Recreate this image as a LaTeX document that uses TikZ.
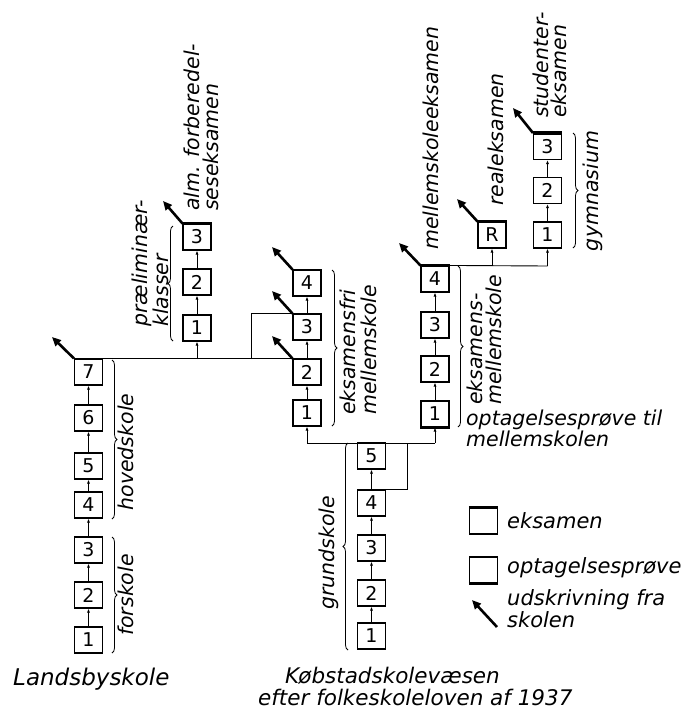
\documentclass[tikz,border=0pt]{standalone}
\usepackage{fontspec}
\setmainfont{DejaVu Sans}
\usetikzlibrary{arrows.meta,decorations.pathreplacing}
\begin{document}
\begin{tikzpicture}[x=1pt,y=-1pt,
  box/.style={draw,line width=1.1pt,minimum width=28pt,minimum height=26pt,inner sep=0pt,font=\fontsize{19}{19}\selectfont},
  up/.style={line width=0.9pt,-{Latex[length=4pt,width=3pt]}},
  conn/.style={line width=0.9pt},
  exit/.style={line width=2.6pt,-{Triangle[length=9pt,width=8pt]}},
  exam/.style={line width=3.5pt},
  brc/.style={decorate,decoration={brace,amplitude=5pt},line width=0.8pt},
  lbl/.style={font=\fontsize{20.5}{19}\selectfont\itshape,inner sep=0pt},
  leg/.style={font=\fontsize{21}{20}\selectfont\itshape,inner sep=0pt},
  ttl/.style={font=\fontsize{21.5}{22}\selectfont\itshape,inner sep=0pt},
  vlbl/.style={lbl,rotate=90,align=left,anchor=north west},
  vc/.style={lbl,rotate=90},
]
\useasboundingbox (0,0) rectangle (691,713);

% Landsbyskole
\node[box] (L1) at (88.5,640) {1};
\node[box] (L2) at (88.5,595) {2};
\node[box] (L3) at (88.5,550) {3};
\node[box] (L4) at (88.5,505) {4};
\node[box] (L5) at (88.5,466) {5};
\node[box] (L6) at (88.5,418) {6};
\node[box] (L7) at (88.5,372) {7};
\foreach \a/\b in {L1/L2,L2/L3,L3/L4,L4/L5,L5/L6,L6/L7} \draw[up] (\a) -- (\b);
\coordinate (xL7) at (52,337);
\draw[exit] (L7.north west) -- (xL7);

% Praeliminaerklasser
\node[box] (P1) at (197,328) {1};
\node[box] (P2) at (197,282) {2};
\node[box] (P3) at (197,237) {3};
\draw[up] (P1) -- (P2);
\draw[up] (P2) -- (P3);
\draw[exam] (P3.north west) -- (P3.north east);
\coordinate (xP3) at (163,201);
\draw[exit] (P3.north west) -- (xP3);

% Eksamensfri mellemskole
\node[box] (E1) at (307,413) {1};
\node[box] (E2) at (307,372) {2};
\node[box] (E3) at (307,327) {3};
\node[box] (E4) at (307,283) {4};
\draw[up] (E1) -- (E2);
\draw[up] (E2) -- (E3);
\draw[up] (E3) -- (E4);
\coordinate (xE2) at (272,336);
\coordinate (xE3) at (272,291);
\coordinate (xE4) at (272,247);
\draw[exit] (E2.north west) -- (xE2);
\draw[exit] (E3.north west) -- (xE3);
\draw[exit] (E4.north west) -- (xE4);

% line from Landsbyskole 7
\draw[conn] (L7.north east) -- (E2.north west);
\coordinate (jP) at (197,359);
\draw[up] (jP) -- (P1);
\coordinate (jB) at (251,359);
\draw[conn] (jB) |- (E3.north west);

% Eksamensmellemskole
\node[box] (M1) at (435,414) {1};
\node[box] (M2) at (435,369) {2};
\node[box] (M3) at (435,325) {3};
\node[box] (M4) at (435,279) {4};
\draw[up] (M1) -- (M2);
\draw[up] (M2) -- (M3);
\draw[up] (M3) -- (M4);
\draw[exam] (M1.south west) -- (M1.south east);
\draw[exam] (M4.north west) -- (M4.north east);
\coordinate (xM4) at (399,243);
\draw[exit] (M4.north west) -- (xM4);

% Realeksamen
\node[box] (R) at (492,235) {R};
\draw[exam] (R.north west) -- (R.north east);
\coordinate (xR) at (457,199);
\draw[exit] (R.north west) -- (xR);

% Gymnasium
\node[box] (G1) at (547.5,235) {1};
\node[box] (G2) at (547.5,190.5) {2};
\node[box] (G3) at (547.5,146.5) {3};
\draw[up] (G1) -- (G2);
\draw[up] (G2) -- (G3);
\draw[exam] (G3.north west) -- (G3.north east);
\coordinate (xG3) at (513,108);
\draw[exit] (G3.north west) -- (xG3);

\coordinate (jR) at (492,266);
\coordinate (jG) at (547.5,266);
\draw[conn] (M4.north east) -- (jG);
\draw[up] (jR) -- (R);
\draw[up] (jG) -- (G1);

% Grundskole
\node[box] (K1) at (371.5,636) {1};
\node[box] (K2) at (371.5,593) {2};
\node[box] (K3) at (371.5,548) {3};
\node[box] (K4) at (371.5,503) {4};
\node[box] (K5) at (371.5,456) {5};
\draw[up] (K1) -- (K2);
\draw[up] (K2) -- (K3);
\draw[up] (K3) -- (K4);
\draw[up] (K4) -- (K5);
\coordinate (jE) at (307,443);
\coordinate (jM) at (435,443);
\coordinate (jK) at (407,443);
\draw[conn] (jE) -- (jM);
\draw[up] (jE) -- (E1);
\draw[up] (jM) -- (M1);
\draw[conn] (K4.north east) -| (jK);

% Braces
\draw[brc] (112,360) -- (112,519);
\draw[brc] (112,537) -- (112,653);
\draw[brc] (173,341) -- (173,226);
\draw[brc] (332,270) -- (332,426);
\draw[brc] (458,266) -- (458,427);
\draw[brc] (573,133) -- (573,248);
\draw[brc] (348,650) -- (348,443);

% Vertical labels
\node[vlbl] (tAlm) at (184,211) {alm. forberedel-\\seseksamen};
\node[vlbl] (tPrae) at (132,327) {præliminær-\\klasser};
\node[vc,anchor=north] (tHov) at (118,452) {hovedskole};
\node[vc,anchor=north] (tFor) at (118,595) {forskole};
\node[vc,anchor=south] (tGru) at (339,553) {grundskole};
\node[vlbl,font=\fontsize{20.5}{21}\selectfont\itshape] (tEfri) at (340,415) {eksamensfri\\mellemskole};
\node[vlbl] (tEms) at (467,405) {eksamens-\\mellemskole};
\node[vlbl] (tMe) at (423,250) {mellemskoleeksamen};
\node[vlbl] (tRe) at (488,206) {realeksamen};
\node[vlbl,font=\fontsize{20.5}{18}\selectfont\itshape] (tSt) at (533,118) {studenter-\\eksamen};
\node[vc,anchor=north] (tGym) at (583,191) {gymnasium};

% Horizontal labels
\node[lbl,align=left,anchor=base west] (tOpt) at (466,446) {optagelsesprøve til\\mellemskolen};

% Legend
\node[box] (lgE) at (483.5,521) {};
\draw[exam] (lgE.north west) -- (lgE.north east);
\node[box] (lgO) at (483.5,570) {};
\draw[exam] (lgO.south west) -- (lgO.south east);
\coordinate (la1) at (497,627);
\coordinate (la2) at (472,600);
\draw[exit] (la1) -- (la2);
\node[leg,anchor=base west] (tE) at (507,528) {eksamen};
\node[leg,anchor=base west] (tO) at (507,573) {optagelsesprøve};
\node[leg,align=left,anchor=base west] (tU) at (507,627) {udskrivning fra\\skolen};

% Titles
\node[ttl,font=\fontsize{23}{22}\selectfont\itshape,anchor=base west] (tLand) at (13,685) {Landsbyskole};
\node[ttl,anchor=base west] (tKob) at (285,683) {Købstadskolevæsen};
\node[ttl,anchor=base west] (tEft) at (258,705) {efter folkeskoleloven af 1937};
\end{tikzpicture}
\end{document}
